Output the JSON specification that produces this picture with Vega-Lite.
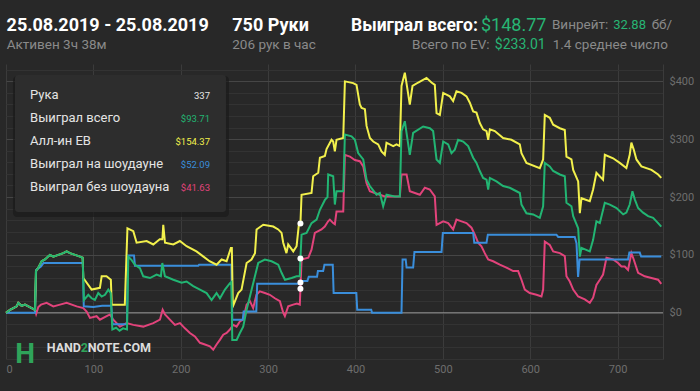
{
  "$schema": "https://vega.github.io/schema/vega-lite/v6.json",
  "width": 657,
  "height": 295,
  "autosize": {"type": "none"},
  "padding": {"left": 6, "top": 64, "right": 37, "bottom": 32},
  "background": "#282828",
  "config": {
    "view": {"stroke": null},
    "font": "Roboto",
    "axis": {"domain": false, "ticks": false, "labelFont": "Roboto", "labelFontSize": 11, "labelColor": "#707070"}
  },
  "data": {"values": [{}]},
  "datasets": {
    "series": [
      {"series":"non_showdown","hand":0,"value":0},{"series":"non_showdown","hand":4.6,"value":5},{"series":"non_showdown","hand":8.4,"value":8},{"series":"non_showdown","hand":12.2,"value":11},{"series":"non_showdown","hand":14.1,"value":17},{"series":"non_showdown","hand":17.9,"value":12},{"series":"non_showdown","hand":21.7,"value":14},{"series":"non_showdown","hand":25.6,"value":11},{"series":"non_showdown","hand":29.4,"value":8},{"series":"non_showdown","hand":33.2,"value":5},{"series":"non_showdown","hand":34.5,"value":-2},{"series":"non_showdown","hand":37,"value":10},{"series":"non_showdown","hand":40,"value":14},{"series":"non_showdown","hand":46.5,"value":17},{"series":"non_showdown","hand":54.2,"value":11},{"series":"non_showdown","hand":61.8,"value":14},{"series":"non_showdown","hand":69.4,"value":17},{"series":"non_showdown","hand":80.9,"value":11},{"series":"non_showdown","hand":88.5,"value":8},{"series":"non_showdown","hand":92.3,"value":2},{"series":"non_showdown","hand":96.1,"value":-9},{"series":"non_showdown","hand":103.7,"value":-6},{"series":"non_showdown","hand":107.5,"value":-12},{"series":"non_showdown","hand":115.2,"value":-6},{"series":"non_showdown","hand":119,"value":-3},{"series":"non_showdown","hand":122.8,"value":-12},{"series":"non_showdown","hand":130.4,"value":-24},{"series":"non_showdown","hand":138,"value":-18},{"series":"non_showdown","hand":145.7,"value":-21},{"series":"non_showdown","hand":157.1,"value":-24},{"series":"non_showdown","hand":168.6,"value":-18},{"series":"non_showdown","hand":176.2,"value":-12},{"series":"non_showdown","hand":179.3,"value":5},{"series":"non_showdown","hand":182,"value":-3},{"series":"non_showdown","hand":187.6,"value":-12},{"series":"non_showdown","hand":193.4,"value":-21},{"series":"non_showdown","hand":199.1,"value":-18},{"series":"non_showdown","hand":204.8,"value":-27},{"series":"non_showdown","hand":210.5,"value":-35},{"series":"non_showdown","hand":216.2,"value":-41},{"series":"non_showdown","hand":222,"value":-52},{"series":"non_showdown","hand":227.7,"value":-55},{"series":"non_showdown","hand":233.4,"value":-58},{"series":"non_showdown","hand":237.2,"value":-64},{"series":"non_showdown","hand":241,"value":-55},{"series":"non_showdown","hand":244.8,"value":-47},{"series":"non_showdown","hand":248.7,"value":-38},{"series":"non_showdown","hand":252.5,"value":-35},{"series":"non_showdown","hand":256.3,"value":-29},{"series":"non_showdown","hand":260.1,"value":-21},{"series":"non_showdown","hand":263.9,"value":-24},{"series":"non_showdown","hand":267.7,"value":-15},{"series":"non_showdown","hand":271.5,"value":-12},{"series":"non_showdown","hand":275.4,"value":14},{"series":"non_showdown","hand":279.2,"value":20},{"series":"non_showdown","hand":282.9,"value":8},{"series":"non_showdown","hand":286.7,"value":31},{"series":"non_showdown","hand":290.5,"value":37},{"series":"non_showdown","hand":296.3,"value":34},{"series":"non_showdown","hand":302,"value":31},{"series":"non_showdown","hand":307.7,"value":25},{"series":"non_showdown","hand":313.5,"value":20},{"series":"non_showdown","hand":317.3,"value":0},{"series":"non_showdown","hand":319.2,"value":-6},{"series":"non_showdown","hand":323,"value":11},{"series":"non_showdown","hand":328.7,"value":14},{"series":"non_showdown","hand":333,"value":16},{"series":"non_showdown","hand":336.3,"value":14},{"series":"non_showdown","hand":337,"value":41.63},{"series":"non_showdown","hand":338.3,"value":92},{"series":"non_showdown","hand":346,"value":95},{"series":"non_showdown","hand":349.7,"value":109},{"series":"non_showdown","hand":353.5,"value":138},{"series":"non_showdown","hand":361.1,"value":144},{"series":"non_showdown","hand":364.9,"value":149},{"series":"non_showdown","hand":368.7,"value":158},{"series":"non_showdown","hand":370.7,"value":161},{"series":"non_showdown","hand":374.5,"value":155},{"series":"non_showdown","hand":376.4,"value":153},{"series":"non_showdown","hand":378.3,"value":175},{"series":"non_showdown","hand":386,"value":175},{"series":"non_showdown","hand":387.9,"value":273},{"series":"non_showdown","hand":393.6,"value":270},{"series":"non_showdown","hand":399.3,"value":264},{"series":"non_showdown","hand":405,"value":262},{"series":"non_showdown","hand":408.9,"value":253},{"series":"non_showdown","hand":412.7,"value":224},{"series":"non_showdown","hand":416.5,"value":210},{"series":"non_showdown","hand":422.2,"value":207},{"series":"non_showdown","hand":427.9,"value":204},{"series":"non_showdown","hand":433.6,"value":201},{"series":"non_showdown","hand":450.8,"value":201},{"series":"non_showdown","hand":452.7,"value":239},{"series":"non_showdown","hand":458.5,"value":239},{"series":"non_showdown","hand":462.2,"value":210},{"series":"non_showdown","hand":468,"value":207},{"series":"non_showdown","hand":473.7,"value":204},{"series":"non_showdown","hand":479.4,"value":216},{"series":"non_showdown","hand":485.1,"value":213},{"series":"non_showdown","hand":490.8,"value":201},{"series":"non_showdown","hand":492.8,"value":152},{"series":"non_showdown","hand":500.4,"value":158},{"series":"non_showdown","hand":506.1,"value":155},{"series":"non_showdown","hand":511.8,"value":144},{"series":"non_showdown","hand":515.6,"value":161},{"series":"non_showdown","hand":521.4,"value":158},{"series":"non_showdown","hand":527.1,"value":155},{"series":"non_showdown","hand":532.8,"value":147},{"series":"non_showdown","hand":536.6,"value":135},{"series":"non_showdown","hand":540.4,"value":121},{"series":"non_showdown","hand":544.2,"value":115},{"series":"non_showdown","hand":548,"value":103},{"series":"non_showdown","hand":551.9,"value":92},{"series":"non_showdown","hand":557.6,"value":89},{"series":"non_showdown","hand":565.2,"value":83},{"series":"non_showdown","hand":572.8,"value":78},{"series":"non_showdown","hand":580.5,"value":72},{"series":"non_showdown","hand":586.2,"value":72},{"series":"non_showdown","hand":590,"value":57},{"series":"non_showdown","hand":593.8,"value":40},{"series":"non_showdown","hand":599.5,"value":34},{"series":"non_showdown","hand":607.2,"value":31},{"series":"non_showdown","hand":612.9,"value":28},{"series":"non_showdown","hand":614.8,"value":40},{"series":"non_showdown","hand":616.7,"value":123},{"series":"non_showdown","hand":622.4,"value":117},{"series":"non_showdown","hand":626.3,"value":106},{"series":"non_showdown","hand":633.9,"value":103},{"series":"non_showdown","hand":639.6,"value":98},{"series":"non_showdown","hand":641.5,"value":63},{"series":"non_showdown","hand":645.3,"value":54},{"series":"non_showdown","hand":649.2,"value":40},{"series":"non_showdown","hand":654.9,"value":28},{"series":"non_showdown","hand":662.5,"value":23},{"series":"non_showdown","hand":668.2,"value":17},{"series":"non_showdown","hand":672,"value":26},{"series":"non_showdown","hand":675.8,"value":48},{"series":"non_showdown","hand":679.7,"value":57},{"series":"non_showdown","hand":683.4,"value":66},{"series":"non_showdown","hand":687.3,"value":95},{"series":"non_showdown","hand":694.9,"value":92},{"series":"non_showdown","hand":700.6,"value":86},{"series":"non_showdown","hand":704.4,"value":80},{"series":"non_showdown","hand":708.2,"value":80},{"series":"non_showdown","hand":712,"value":74},{"series":"non_showdown","hand":715.8,"value":103},{"series":"non_showdown","hand":718.5,"value":92},{"series":"non_showdown","hand":723.5,"value":69},{"series":"non_showdown","hand":731.1,"value":63},{"series":"non_showdown","hand":738.8,"value":60},{"series":"non_showdown","hand":746.4,"value":57},{"series":"non_showdown","hand":750,"value":50},

      {"series":"showdown","hand":0,"value":0},{"series":"showdown","hand":33.2,"value":0},{"series":"showdown","hand":34.5,"value":74},{"series":"showdown","hand":40,"value":80},{"series":"showdown","hand":43,"value":86},{"series":"showdown","hand":88,"value":86},{"series":"showdown","hand":89,"value":11},{"series":"showdown","hand":100,"value":10},{"series":"showdown","hand":110,"value":12},{"series":"showdown","hand":120.5,"value":12},{"series":"showdown","hand":122,"value":-20},{"series":"showdown","hand":138.5,"value":-20},{"series":"showdown","hand":139.5,"value":99},{"series":"showdown","hand":146.5,"value":99},{"series":"showdown","hand":147.6,"value":81},{"series":"showdown","hand":220,"value":81},{"series":"showdown","hand":221,"value":83},{"series":"showdown","hand":258,"value":83},{"series":"showdown","hand":259,"value":-12},{"series":"showdown","hand":271,"value":-12},{"series":"showdown","hand":272,"value":2},{"series":"showdown","hand":286.5,"value":2},{"series":"showdown","hand":287.5,"value":50},{"series":"showdown","hand":336,"value":50},{"series":"showdown","hand":337,"value":52.09},{"series":"showdown","hand":338.5,"value":55},{"series":"showdown","hand":345,"value":55},{"series":"showdown","hand":346.5,"value":62},{"series":"showdown","hand":356,"value":62},{"series":"showdown","hand":357,"value":72},{"series":"showdown","hand":363,"value":72},{"series":"showdown","hand":364.5,"value":83},{"series":"showdown","hand":374,"value":83},{"series":"showdown","hand":375,"value":34},{"series":"showdown","hand":401,"value":34},{"series":"showdown","hand":402,"value":5},{"series":"showdown","hand":418,"value":5},{"series":"showdown","hand":419,"value":0},{"series":"showdown","hand":452.7,"value":0},{"series":"showdown","hand":453.9,"value":92},{"series":"showdown","hand":457.5,"value":92},{"series":"showdown","hand":458.5,"value":78},{"series":"showdown","hand":466,"value":78},{"series":"showdown","hand":467.5,"value":105},{"series":"showdown","hand":498.5,"value":105},{"series":"showdown","hand":500,"value":138},{"series":"showdown","hand":534.7,"value":138},{"series":"showdown","hand":536,"value":121},{"series":"showdown","hand":550,"value":121},{"series":"showdown","hand":551.5,"value":135},{"series":"showdown","hand":630,"value":135},{"series":"showdown","hand":632,"value":131},{"series":"showdown","hand":651,"value":131},{"series":"showdown","hand":653,"value":120},{"series":"showdown","hand":654.8,"value":62},{"series":"showdown","hand":656.5,"value":92},{"series":"showdown","hand":712,"value":92},{"series":"showdown","hand":713.5,"value":104},{"series":"showdown","hand":725.4,"value":104},{"series":"showdown","hand":727,"value":97},{"series":"showdown","hand":750,"value":97},

      {"series":"allin_ev","hand":0,"value":0},{"series":"allin_ev","hand":4.6,"value":5},{"series":"allin_ev","hand":8.4,"value":8},{"series":"allin_ev","hand":12.2,"value":11},{"series":"allin_ev","hand":14.1,"value":17},{"series":"allin_ev","hand":17.9,"value":12},{"series":"allin_ev","hand":21.7,"value":14},{"series":"allin_ev","hand":25.6,"value":11},{"series":"allin_ev","hand":29.4,"value":8},{"series":"allin_ev","hand":33.2,"value":5},{"series":"allin_ev","hand":34.3,"value":72},{"series":"allin_ev","hand":37,"value":78},{"series":"allin_ev","hand":40.8,"value":89},{"series":"allin_ev","hand":44.6,"value":92},{"series":"allin_ev","hand":50.3,"value":100},{"series":"allin_ev","hand":54.2,"value":97},{"series":"allin_ev","hand":59.9,"value":100},{"series":"allin_ev","hand":65.6,"value":103},{"series":"allin_ev","hand":69.4,"value":106},{"series":"allin_ev","hand":73.2,"value":103},{"series":"allin_ev","hand":79,"value":100},{"series":"allin_ev","hand":84.7,"value":97},{"series":"allin_ev","hand":87.7,"value":95},{"series":"allin_ev","hand":88.5,"value":60},{"series":"allin_ev","hand":98,"value":40},{"series":"allin_ev","hand":107.5,"value":43},{"series":"allin_ev","hand":109.5,"value":63},{"series":"allin_ev","hand":115,"value":63},{"series":"allin_ev","hand":120,"value":57},{"series":"allin_ev","hand":121,"value":14},{"series":"allin_ev","hand":136,"value":14},{"series":"allin_ev","hand":139,"value":146},{"series":"allin_ev","hand":145.7,"value":141},{"series":"allin_ev","hand":149.5,"value":121},{"series":"allin_ev","hand":161,"value":124},{"series":"allin_ev","hand":168.6,"value":118},{"series":"allin_ev","hand":176,"value":127},{"series":"allin_ev","hand":179,"value":127},{"series":"allin_ev","hand":180,"value":152},{"series":"allin_ev","hand":182,"value":121},{"series":"allin_ev","hand":191.5,"value":118},{"series":"allin_ev","hand":199,"value":124},{"series":"allin_ev","hand":206.7,"value":115},{"series":"allin_ev","hand":218,"value":106},{"series":"allin_ev","hand":226,"value":97},{"series":"allin_ev","hand":233,"value":89},{"series":"allin_ev","hand":241,"value":83},{"series":"allin_ev","hand":246.8,"value":92},{"series":"allin_ev","hand":252.5,"value":89},{"series":"allin_ev","hand":257.4,"value":112},{"series":"allin_ev","hand":258.5,"value":112},{"series":"allin_ev","hand":259.5,"value":22},{"series":"allin_ev","hand":260.5,"value":14},{"series":"allin_ev","hand":265.8,"value":34},{"series":"allin_ev","hand":269.6,"value":40},{"series":"allin_ev","hand":275.4,"value":86},{"series":"allin_ev","hand":281,"value":92},{"series":"allin_ev","hand":285,"value":103},{"series":"allin_ev","hand":286.8,"value":144},{"series":"allin_ev","hand":294.4,"value":152},{"series":"allin_ev","hand":305.9,"value":149},{"series":"allin_ev","hand":311.6,"value":144},{"series":"allin_ev","hand":315.4,"value":138},{"series":"allin_ev","hand":317.3,"value":121},{"series":"allin_ev","hand":321,"value":103},{"series":"allin_ev","hand":323,"value":118},{"series":"allin_ev","hand":328.8,"value":106},{"series":"allin_ev","hand":332.6,"value":115},{"series":"allin_ev","hand":335.2,"value":152},{"series":"allin_ev","hand":337,"value":154.37},{"series":"allin_ev","hand":338.3,"value":204},{"series":"allin_ev","hand":349.7,"value":207},{"series":"allin_ev","hand":351.6,"value":236},{"series":"allin_ev","hand":357.4,"value":242},{"series":"allin_ev","hand":359.3,"value":268},{"series":"allin_ev","hand":365,"value":271},{"series":"allin_ev","hand":366.9,"value":283},{"series":"allin_ev","hand":372.6,"value":299},{"series":"allin_ev","hand":374.5,"value":296},{"series":"allin_ev","hand":376.4,"value":279},{"series":"allin_ev","hand":378.3,"value":299},{"series":"allin_ev","hand":386,"value":302},{"series":"allin_ev","hand":387.9,"value":400},{"series":"allin_ev","hand":397.4,"value":397},{"series":"allin_ev","hand":401.2,"value":394},{"series":"allin_ev","hand":405,"value":360},{"series":"allin_ev","hand":407,"value":354},{"series":"allin_ev","hand":410.8,"value":352},{"series":"allin_ev","hand":412.7,"value":323},{"series":"allin_ev","hand":416.5,"value":302},{"series":"allin_ev","hand":420.3,"value":296},{"series":"allin_ev","hand":426,"value":291},{"series":"allin_ev","hand":429.8,"value":279},{"series":"allin_ev","hand":433.6,"value":273},{"series":"allin_ev","hand":435.5,"value":294},{"series":"allin_ev","hand":443.2,"value":288},{"series":"allin_ev","hand":447,"value":291},{"series":"allin_ev","hand":450.8,"value":288},{"series":"allin_ev","hand":452.7,"value":392},{"series":"allin_ev","hand":456.5,"value":415},{"series":"allin_ev","hand":459.2,"value":389},{"series":"allin_ev","hand":462.2,"value":360},{"series":"allin_ev","hand":465.3,"value":392},{"series":"allin_ev","hand":471.8,"value":398},{"series":"allin_ev","hand":481.3,"value":406},{"series":"allin_ev","hand":487,"value":398},{"series":"allin_ev","hand":490.8,"value":394},{"series":"allin_ev","hand":492.8,"value":345},{"series":"allin_ev","hand":496.6,"value":342},{"series":"allin_ev","hand":500.4,"value":380},{"series":"allin_ev","hand":508,"value":374},{"series":"allin_ev","hand":511.8,"value":366},{"series":"allin_ev","hand":515.6,"value":383},{"series":"allin_ev","hand":521.4,"value":380},{"series":"allin_ev","hand":527.1,"value":374},{"series":"allin_ev","hand":530.9,"value":363},{"series":"allin_ev","hand":534.7,"value":348},{"series":"allin_ev","hand":538.5,"value":346},{"series":"allin_ev","hand":542.3,"value":328},{"series":"allin_ev","hand":546.1,"value":317},{"series":"allin_ev","hand":550,"value":314},{"series":"allin_ev","hand":551.9,"value":299},{"series":"allin_ev","hand":553.8,"value":317},{"series":"allin_ev","hand":559.5,"value":314},{"series":"allin_ev","hand":569,"value":302},{"series":"allin_ev","hand":578.5,"value":299},{"series":"allin_ev","hand":588.1,"value":291},{"series":"allin_ev","hand":590,"value":276},{"series":"allin_ev","hand":595.7,"value":259},{"series":"allin_ev","hand":611,"value":250},{"series":"allin_ev","hand":614.8,"value":265},{"series":"allin_ev","hand":616.7,"value":342},{"series":"allin_ev","hand":622.4,"value":337},{"series":"allin_ev","hand":626.3,"value":325},{"series":"allin_ev","hand":633.9,"value":319},{"series":"allin_ev","hand":639.6,"value":316},{"series":"allin_ev","hand":641.5,"value":270},{"series":"allin_ev","hand":647.2,"value":265},{"series":"allin_ev","hand":649.2,"value":247},{"series":"allin_ev","hand":654.9,"value":227},{"series":"allin_ev","hand":656.8,"value":172},{"series":"allin_ev","hand":658.7,"value":198},{"series":"allin_ev","hand":668.2,"value":193},{"series":"allin_ev","hand":672,"value":213},{"series":"allin_ev","hand":675.8,"value":242},{"series":"allin_ev","hand":683.4,"value":230},{"series":"allin_ev","hand":685.4,"value":273},{"series":"allin_ev","hand":694.9,"value":267},{"series":"allin_ev","hand":702.5,"value":259},{"series":"allin_ev","hand":710.1,"value":250},{"series":"allin_ev","hand":713.9,"value":273},{"series":"allin_ev","hand":715.8,"value":294},{"series":"allin_ev","hand":718.5,"value":282},{"series":"allin_ev","hand":721.6,"value":265},{"series":"allin_ev","hand":727.3,"value":253},{"series":"allin_ev","hand":738.8,"value":247},{"series":"allin_ev","hand":746.4,"value":239},{"series":"allin_ev","hand":750,"value":233.01},

      {"series":"won","hand":0,"value":0},{"series":"won","hand":4.6,"value":5},{"series":"won","hand":8.4,"value":8},{"series":"won","hand":12.2,"value":11},{"series":"won","hand":14.1,"value":17},{"series":"won","hand":17.9,"value":12},{"series":"won","hand":21.7,"value":14},{"series":"won","hand":25.6,"value":11},{"series":"won","hand":29.4,"value":8},{"series":"won","hand":33.2,"value":5},{"series":"won","hand":34.3,"value":72},{"series":"won","hand":37,"value":78},{"series":"won","hand":40.8,"value":89},{"series":"won","hand":44.6,"value":92},{"series":"won","hand":50.3,"value":100},{"series":"won","hand":54.2,"value":97},{"series":"won","hand":59.9,"value":100},{"series":"won","hand":65.6,"value":103},{"series":"won","hand":69.4,"value":106},{"series":"won","hand":73.2,"value":103},{"series":"won","hand":79,"value":100},{"series":"won","hand":84.7,"value":97},{"series":"won","hand":87.7,"value":95},{"series":"won","hand":89.2,"value":22},{"series":"won","hand":94.2,"value":31},{"series":"won","hand":98,"value":25},{"series":"won","hand":101.8,"value":22},{"series":"won","hand":105.6,"value":34},{"series":"won","hand":109.5,"value":28},{"series":"won","hand":113.3,"value":31},{"series":"won","hand":117.1,"value":40},{"series":"won","hand":119.8,"value":34},{"series":"won","hand":121.7,"value":-29},{"series":"won","hand":126,"value":-26},{"series":"won","hand":130,"value":-31},{"series":"won","hand":134,"value":-27},{"series":"won","hand":138.5,"value":-29},{"series":"won","hand":140,"value":97},{"series":"won","hand":143.8,"value":91},{"series":"won","hand":147.6,"value":83},{"series":"won","hand":153.3,"value":77},{"series":"won","hand":157.1,"value":63},{"series":"won","hand":164.8,"value":60},{"series":"won","hand":172.4,"value":66},{"series":"won","hand":177.3,"value":63},{"series":"won","hand":178.9,"value":86},{"series":"won","hand":181.9,"value":63},{"series":"won","hand":191.5,"value":57},{"series":"won","hand":201,"value":52},{"series":"won","hand":206.7,"value":54},{"series":"won","hand":214.3,"value":46},{"series":"won","hand":222,"value":40},{"series":"won","hand":229.6,"value":34},{"series":"won","hand":235.3,"value":22},{"series":"won","hand":241,"value":34},{"series":"won","hand":244.9,"value":25},{"series":"won","hand":250.6,"value":40},{"series":"won","hand":256.3,"value":51},{"series":"won","hand":258,"value":53},{"series":"won","hand":259,"value":-47},{"series":"won","hand":264,"value":-47},{"series":"won","hand":267.7,"value":-35},{"series":"won","hand":271.5,"value":-24},{"series":"won","hand":275.4,"value":5},{"series":"won","hand":279.2,"value":28},{"series":"won","hand":284.9,"value":63},{"series":"won","hand":288.7,"value":86},{"series":"won","hand":296.3,"value":92},{"series":"won","hand":304,"value":89},{"series":"won","hand":311.6,"value":83},{"series":"won","hand":315.4,"value":69},{"series":"won","hand":319.3,"value":57},{"series":"won","hand":326.9,"value":60},{"series":"won","hand":332.6,"value":63},{"series":"won","hand":336.3,"value":63},{"series":"won","hand":337,"value":93.71},{"series":"won","hand":338.3,"value":135},{"series":"won","hand":344,"value":138},{"series":"won","hand":349.7,"value":155},{"series":"won","hand":355.5,"value":161},{"series":"won","hand":359.3,"value":178},{"series":"won","hand":365,"value":195},{"series":"won","hand":368,"value":200},{"series":"won","hand":368.8,"value":239},{"series":"won","hand":374.5,"value":236},{"series":"won","hand":376.4,"value":187},{"series":"won","hand":378.3,"value":210},{"series":"won","hand":386,"value":210},{"series":"won","hand":387.9,"value":308},{"series":"won","hand":395.5,"value":305},{"series":"won","hand":399.3,"value":299},{"series":"won","hand":403.1,"value":276},{"series":"won","hand":408.9,"value":265},{"series":"won","hand":412.7,"value":230},{"series":"won","hand":416.5,"value":219},{"series":"won","hand":424.1,"value":204},{"series":"won","hand":427.9,"value":207},{"series":"won","hand":431.7,"value":184},{"series":"won","hand":435.5,"value":204},{"series":"won","hand":445,"value":201},{"series":"won","hand":450.8,"value":201},{"series":"won","hand":452.7,"value":314},{"series":"won","hand":456.5,"value":331},{"series":"won","hand":459.2,"value":303},{"series":"won","hand":462.2,"value":273},{"series":"won","hand":466,"value":311},{"series":"won","hand":477.5,"value":322},{"series":"won","hand":485.1,"value":319},{"series":"won","hand":488.9,"value":314},{"series":"won","hand":492.8,"value":265},{"series":"won","hand":496.6,"value":259},{"series":"won","hand":500.4,"value":296},{"series":"won","hand":506.1,"value":291},{"series":"won","hand":509.9,"value":276},{"series":"won","hand":513.7,"value":282},{"series":"won","hand":517.5,"value":299},{"series":"won","hand":523.3,"value":296},{"series":"won","hand":529,"value":288},{"series":"won","hand":534.7,"value":268},{"series":"won","hand":538.5,"value":259},{"series":"won","hand":542.3,"value":245},{"series":"won","hand":546.1,"value":233},{"series":"won","hand":550,"value":230},{"series":"won","hand":551.9,"value":213},{"series":"won","hand":553.8,"value":233},{"series":"won","hand":561.4,"value":227},{"series":"won","hand":569,"value":219},{"series":"won","hand":576.6,"value":216},{"series":"won","hand":584.3,"value":210},{"series":"won","hand":588.1,"value":207},{"series":"won","hand":590,"value":187},{"series":"won","hand":595.7,"value":172},{"series":"won","hand":603.4,"value":170},{"series":"won","hand":611,"value":164},{"series":"won","hand":614.8,"value":184},{"series":"won","hand":616.7,"value":259},{"series":"won","hand":622.4,"value":253},{"series":"won","hand":626.3,"value":245},{"series":"won","hand":633.9,"value":239},{"series":"won","hand":639.6,"value":236},{"series":"won","hand":641.5,"value":190},{"series":"won","hand":647.2,"value":184},{"series":"won","hand":649.2,"value":167},{"series":"won","hand":654.9,"value":146},{"series":"won","hand":656.8,"value":97},{"series":"won","hand":658.7,"value":112},{"series":"won","hand":668.2,"value":106},{"series":"won","hand":672,"value":126},{"series":"won","hand":675.8,"value":158},{"series":"won","hand":679.7,"value":155},{"series":"won","hand":685.4,"value":190},{"series":"won","hand":691.2,"value":187},{"series":"won","hand":698.8,"value":181},{"series":"won","hand":706.4,"value":170},{"series":"won","hand":710.1,"value":173},{"series":"won","hand":713.9,"value":187},{"series":"won","hand":717,"value":210},{"series":"won","hand":719.7,"value":196},{"series":"won","hand":723.5,"value":181},{"series":"won","hand":729.2,"value":173},{"series":"won","hand":735,"value":167},{"series":"won","hand":740.7,"value":164},{"series":"won","hand":746.4,"value":155},{"series":"won","hand":750,"value":148.77}
    ],
    "hover": [
      {"series":"allin_ev","hand":337,"value":154.37},
      {"series":"won","hand":337,"value":93.71},
      {"series":"showdown","hand":337,"value":52.09},
      {"series":"non_showdown","hand":337,"value":41.63}
    ],
    "tip": [
      {"label":"Рука","val":"337","series":"hand"},
      {"label":"Выиграл всего","val":"$93.71","series":"won"},
      {"label":"Алл-ин ЕВ","val":"$154.37","series":"allin_ev"},
      {"label":"Выиграл на шоудауне","val":"$52.09","series":"showdown"},
      {"label":"Выиграл без шоудауна","val":"$41.63","series":"non_showdown"}
    ]
  },
  "resolve": {"scale": {"y": "independent"}},
  "layer": [
    {
      "resolve": {"axis": {"y": "independent"}},
      "layer": [
        {
          "mark": {"type": "rule", "color": "#8a8a8a", "strokeWidth": 1},
          "encoding": {"y": {"datum": 0, "type": "quantitative",
            "scale": {"domain": [-80, 430], "nice": false, "zero": false},
            "axis": {"orient": "right", "labels": false, "ticks": false, "domain": false, "grid": true, "gridColor": "#333333",
              "values": [-80,-60,-40,-20,20,40,60,80,120,140,160,180,220,240,260,280,320,340,360,380,420]}}}
        },
        {
          "data": {"name": "series"},
          "transform": [{"filter": "datum.series === 'non_showdown'"}],
          "mark": {"type": "line", "strokeWidth": 2},
          "encoding": {
            "x": {"field": "hand", "type": "quantitative", "title": null,
              "scale": {"domain": [0, 752], "nice": false, "zero": false},
              "axis": {"values": [0,100,200,300,400,500,600,700], "grid": true, "gridColor": "#3b3b3b", "labelPadding": 4, "labelFontSize": 11, "labelColor": "#6e6e6e", "labelOverlap": false, "title": null}},
            "y": {"field": "value", "type": "quantitative", "title": null,
              "scale": {"domain": [-80, 430], "nice": false, "zero": false},
              "axis": {"orient": "right", "title": null, "domain": true, "domainColor": "#3b3b3b",
                "values": [0,100,200,300,400],
                "labelExpr": "'$' + datum.value",
                "labelOverlap": false,
                "grid": true, "gridColor": "#464646",
                "labelAlign": "left", "labelPadding": 6, "labelFontSize": 11, "labelColor": "#6e6e6e"}},
            "color": {"field": "series", "type": "nominal", "legend": null,
              "scale": {"domain": ["won","allin_ev","showdown","non_showdown","hand"], "range": ["#22b573","#f2f04c","#3a8edb","#e2437b","#e6e6e6"]}}
          }
        },
        {
          "data": {"name": "series"},
          "transform": [{"filter": "datum.series === 'showdown'"}],
          "mark": {"type": "line", "strokeWidth": 2},
          "encoding": {
            "x": {"field": "hand", "type": "quantitative", "title": null},
            "y": {"field": "value", "type": "quantitative", "title": null, "axis": null},
            "color": {"field": "series", "type": "nominal", "legend": null}
          }
        },
        {
          "data": {"name": "series"},
          "transform": [{"filter": "datum.series === 'allin_ev'"}],
          "mark": {"type": "line", "strokeWidth": 2},
          "encoding": {
            "x": {"field": "hand", "type": "quantitative", "title": null},
            "y": {"field": "value", "type": "quantitative", "title": null, "axis": null},
            "color": {"field": "series", "type": "nominal", "legend": null}
          }
        },
        {
          "data": {"name": "series"},
          "transform": [{"filter": "datum.series === 'won'"}],
          "mark": {"type": "line", "strokeWidth": 2},
          "encoding": {
            "x": {"field": "hand", "type": "quantitative", "title": null},
            "y": {"field": "value", "type": "quantitative", "title": null, "axis": null},
            "color": {"field": "series", "type": "nominal", "legend": null}
          }
        },
        {
          "data": {"name": "hover"},
          "mark": {"type": "point", "filled": true, "color": "#ffffff", "opacity": 1, "size": 36},
          "encoding": {
            "x": {"field": "hand", "type": "quantitative", "title": null},
            "y": {"field": "value", "type": "quantitative", "title": null, "axis": null}
          }
        },
        {
          "mark": {"type": "rect", "color": "#1a1a1a", "opacity": 0.7, "cornerRadius": 4},
          "encoding": {"x": {"datum": 8.0}, "x2": {"datum": 255.2}, "y": {"datum": 409.2, "axis": null}, "y2": {"datum": 165.5}}
        },
        {
          "mark": {"type": "rect", "color": "#2d2d2d", "cornerRadius": 3},
          "encoding": {"x": {"datum": 10.3}, "x2": {"datum": 251.8}, "y": {"datum": 411.0, "axis": null}, "y2": {"datum": 174.1}}
        },
        {"mark": {"type": "text", "text": "25.08.2019 - 25.08.2019", "align": "left", "fontSize": 18, "fontWeight": "bold", "color": "#ffffff"},
          "encoding": {"x": {"datum": 0.7}, "y": {"datum": 495.7, "axis": null}}},
        {"mark": {"type": "text", "text": "Активен 3ч 38м", "align": "left", "fontSize": 13.5, "color": "#8a8a8a"},
          "encoding": {"x": {"datum": 0.8}, "y": {"datum": 462.8, "axis": null}}},
        {"mark": {"type": "text", "text": "750 Руки", "align": "left", "fontSize": 18, "fontWeight": "bold", "color": "#ffffff"},
          "encoding": {"x": {"datum": 259}, "y": {"datum": 495.7, "axis": null}}},
        {"mark": {"type": "text", "text": "206 рук в час", "align": "left", "fontSize": 13.5, "color": "#8a8a8a"},
          "encoding": {"x": {"datum": 259}, "y": {"datum": 462.8, "axis": null}}},
        {"mark": {"type": "text", "text": "Выиграл всего:", "align": "left", "fontSize": 17.5, "fontWeight": "bold", "color": "#ffffff"},
          "encoding": {"x": {"datum": 394.9}, "y": {"datum": 495.7, "axis": null}}},
        {"mark": {"type": "text", "text": "$148.77", "align": "left", "fontSize": 18, "color": "#27b574"},
          "encoding": {"x": {"datum": 543.6}, "y": {"datum": 495.7, "axis": null}}},
        {"mark": {"type": "text", "text": "Винрейт:", "align": "left", "fontSize": 13.5, "color": "#8a8a8a"},
          "encoding": {"x": {"datum": 624.9}, "y": {"datum": 497.4, "axis": null}}},
        {"mark": {"type": "text", "text": "32.88", "align": "left", "fontSize": 13, "color": "#27b574"},
          "encoding": {"x": {"datum": 695.1}, "y": {"datum": 497.4, "axis": null}}},
        {"mark": {"type": "text", "text": "бб/", "align": "left", "fontSize": 13.5, "color": "#8a8a8a"},
          "encoding": {"x": {"datum": 739}, "y": {"datum": 497.4, "axis": null}}},
        {"mark": {"type": "text", "text": "Всего по EV:", "align": "left", "fontSize": 13.5, "color": "#8a8a8a"},
          "encoding": {"x": {"datum": 464.7}, "y": {"datum": 462.8, "axis": null}}},
        {"mark": {"type": "text", "text": "$233.01", "align": "left", "fontSize": 14, "color": "#27b574"},
          "encoding": {"x": {"datum": 559.5}, "y": {"datum": 462.8, "axis": null}}},
        {"mark": {"type": "text", "text": "1.4 среднее число", "align": "left", "fontSize": 13.5, "color": "#8a8a8a"},
          "encoding": {"x": {"datum": 625.7}, "y": {"datum": 462.8, "axis": null}}},
        {"mark": {"type": "text", "text": "H", "align": "left", "fontSize": 28, "fontWeight": "bold", "color": "#2fa45a"},
          "encoding": {"x": {"datum": 10.5}, "y": {"datum": -73.1, "axis": null}}},
        {"mark": {"type": "text", "text": "HAND", "align": "left", "fontSize": 12.5, "fontWeight": "bold", "color": "#dcdcdc"},
          "encoding": {"x": {"datum": 46.6}, "y": {"datum": -61.5, "axis": null}}},
        {"mark": {"type": "text", "text": "2", "align": "left", "fontSize": 12.5, "fontWeight": "bold", "color": "#2fa45a"},
          "encoding": {"x": {"datum": 85.6}, "y": {"datum": -61.5, "axis": null}}},
        {"mark": {"type": "text", "text": "NOTE.COM", "align": "left", "fontSize": 12.5, "fontWeight": "bold", "color": "#dcdcdc"},
          "encoding": {"x": {"datum": 93.6}, "y": {"datum": -61.5, "axis": null}}}
      ]
    },
    {
      "data": {"name": "tip"},
      "layer": [
        {
          "mark": {"type": "text", "align": "left", "fontSize": 13, "color": "#e4e4e4", "baseline": "alphabetic"},
          "encoding": {
            "x": {"datum": 27.5},
            "y": {"field": "label", "type": "nominal", "axis": null,
              "scale": {"type": "point", "padding": 0, "range": [35, 127],
                "domain": ["Рука","Выиграл всего","Алл-ин ЕВ","Выиграл на шоудауне","Выиграл без шоудауна"]}},
            "text": {"field": "label"}
          }
        },
        {
          "mark": {"type": "text", "align": "right", "fontSize": 9.5, "baseline": "alphabetic"},
          "encoding": {
            "x": {"datum": 233.5},
            "y": {"field": "label", "type": "nominal", "axis": null},
            "text": {"field": "val"},
            "color": {"field": "series", "type": "nominal", "legend": null}
          }
        }
      ]
    }
  ]
}
